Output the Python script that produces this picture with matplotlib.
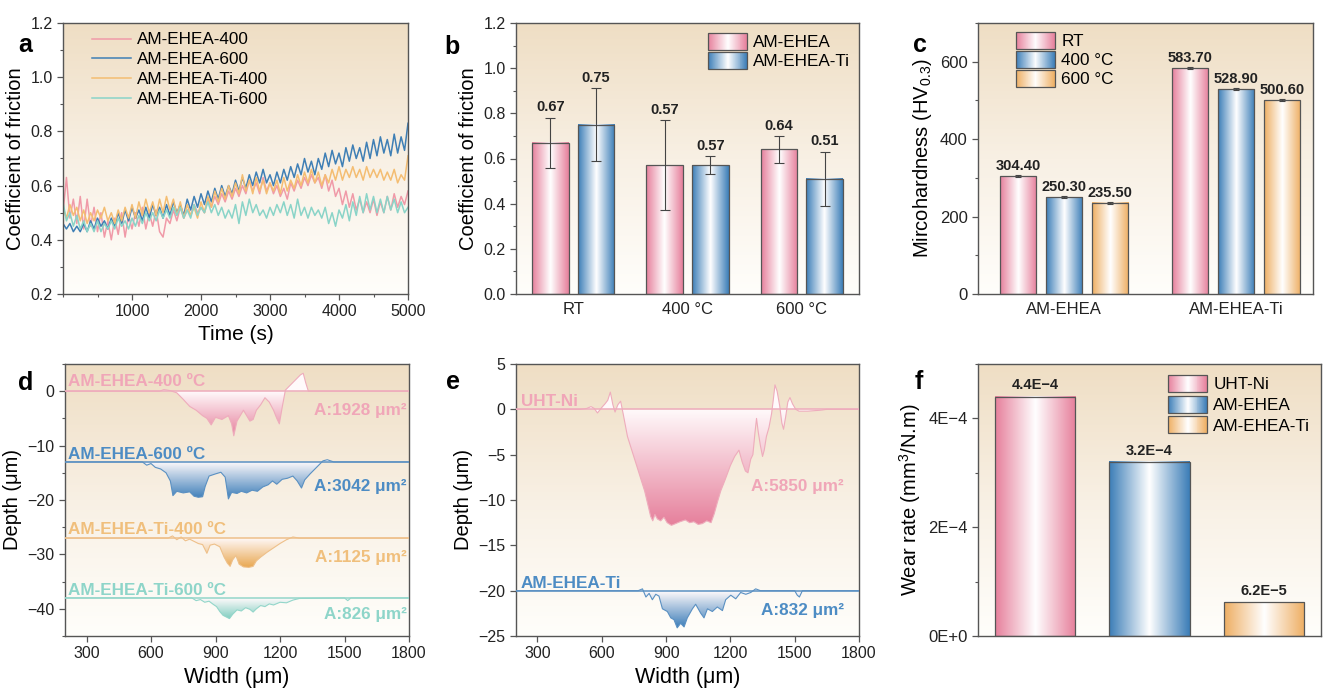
import numpy as np
import matplotlib
matplotlib.use('Agg')
import matplotlib.pyplot as plt
from matplotlib.colors import LinearSegmentedColormap
from matplotlib.legend_handler import HandlerBase
from matplotlib.patches import Rectangle
from matplotlib.path import Path
from matplotlib.ticker import MultipleLocator, FuncFormatter, FormatStrFormatter

plt.rcParams['font.family'] = ['Liberation Sans', 'DejaVu Sans']
plt.rcParams['axes.unicode_minus'] = True

# ---------------- data ----------------
time_s = np.arange(0, 5001, 50)
cof_ehea_400 = [0.50,0.63,0.48,0.55,0.46,0.56,0.44,0.55,0.45,0.52,
                0.43,0.50,0.41,0.47,0.40,0.48,0.42,0.50,0.41,0.49,
                0.44,0.50,0.45,0.52,0.44,0.50,0.45,0.51,0.43,0.41,
                0.48,0.46,0.51,0.47,0.52,0.48,0.51,0.49,0.53,0.50,
                0.52,0.50,0.55,0.52,0.56,0.53,0.57,0.54,0.58,0.55,
                0.59,0.56,0.60,0.57,0.62,0.58,0.61,0.57,0.63,0.58,
                0.61,0.57,0.60,0.56,0.59,0.55,0.61,0.58,0.62,0.59,
                0.63,0.60,0.64,0.61,0.63,0.59,0.64,0.58,0.62,0.56,
                0.59,0.53,0.58,0.52,0.57,0.51,0.55,0.50,0.54,0.50,
                0.55,0.49,0.54,0.50,0.56,0.51,0.57,0.52,0.56,0.53,
                0.58]
cof_ehea_600 = [0.46,0.44,0.46,0.43,0.45,0.43,0.46,0.43,0.47,0.44,
                0.48,0.45,0.47,0.44,0.48,0.45,0.50,0.46,0.51,0.47,
                0.52,0.48,0.51,0.47,0.52,0.48,0.53,0.49,0.52,0.48,
                0.53,0.49,0.54,0.50,0.53,0.49,0.55,0.51,0.56,0.52,
                0.57,0.53,0.58,0.54,0.59,0.55,0.60,0.56,0.60,0.57,
                0.62,0.58,0.63,0.59,0.64,0.60,0.65,0.61,0.66,0.61,
                0.64,0.60,0.65,0.61,0.66,0.62,0.67,0.63,0.68,0.64,
                0.70,0.65,0.69,0.64,0.70,0.66,0.72,0.67,0.73,0.68,
                0.72,0.67,0.74,0.69,0.75,0.70,0.74,0.69,0.76,0.70,
                0.77,0.71,0.78,0.72,0.77,0.71,0.79,0.72,0.78,0.73,
                0.83]
cof_ti_400 = [0.52,0.48,0.53,0.49,0.52,0.47,0.51,0.46,0.50,0.47,
              0.51,0.48,0.52,0.47,0.50,0.46,0.51,0.47,0.52,0.48,
              0.53,0.48,0.54,0.49,0.55,0.50,0.54,0.49,0.55,0.50,
              0.56,0.51,0.55,0.49,0.54,0.48,0.53,0.49,0.52,0.48,
              0.54,0.50,0.56,0.52,0.58,0.54,0.59,0.55,0.60,0.56,
              0.61,0.57,0.64,0.58,0.62,0.57,0.63,0.58,0.62,0.57,
              0.61,0.58,0.62,0.57,0.63,0.58,0.62,0.59,0.64,0.60,
              0.65,0.61,0.66,0.61,0.65,0.60,0.64,0.61,0.66,0.62,
              0.67,0.62,0.66,0.63,0.67,0.63,0.66,0.62,0.67,0.63,
              0.66,0.63,0.66,0.62,0.65,0.62,0.66,0.61,0.64,0.62,
              0.71]
cof_ti_600 = [0.54,0.47,0.50,0.45,0.49,0.44,0.47,0.43,0.46,0.43,
              0.47,0.43,0.46,0.44,0.47,0.44,0.48,0.45,0.47,0.44,
              0.48,0.45,0.49,0.46,0.50,0.47,0.50,0.47,0.51,0.48,
              0.51,0.48,0.52,0.49,0.52,0.48,0.51,0.48,0.53,0.49,
              0.52,0.50,0.54,0.50,0.53,0.49,0.52,0.48,0.51,0.48,
              0.53,0.46,0.54,0.49,0.55,0.50,0.53,0.49,0.51,0.48,
              0.52,0.49,0.53,0.50,0.54,0.49,0.53,0.48,0.55,0.49,
              0.52,0.48,0.52,0.49,0.51,0.48,0.52,0.46,0.50,0.45,
              0.51,0.48,0.53,0.47,0.54,0.49,0.56,0.50,0.57,0.51,
              0.56,0.50,0.55,0.50,0.56,0.51,0.55,0.50,0.54,0.50,
              0.52]
series_a_labels = ['AM-EHEA-400', 'AM-EHEA-600', 'AM-EHEA-Ti-400', 'AM-EHEA-Ti-600']

b_categories = ['RT', '400 °C', '600 °C']
b_ehea = [0.67, 0.57, 0.64]
b_ehea_err = [0.11, 0.20, 0.06]
b_ti = [0.75, 0.57, 0.51]
b_ti_err = [0.16, 0.04, 0.12]
b_labels = ['AM-EHEA', 'AM-EHEA-Ti']

c_categories = ['AM-EHEA', 'AM-EHEA-Ti']
c_series = ['RT', '400 °C', '600 °C']
c_rt = [304.40, 583.70]
c_400 = [250.30, 528.90]
c_600 = [235.50, 500.60]
c_err = [[2.0, 3.0], [2.0, 2.5], [2.0, 2.0]]

# wear-track profiles (width um, depth um)
d400_x = [200,640,660,690,720,750,780,810,840,860,880,900,930,960,975,985,1000,1015,1030,1045,1060,1075,1090,1110,1130,1150,1170,1185,1197,1210,1225,1250,1275,1295,1308,1320,1332,1800]
d400_y = [0,0,0.3,0.1,-0.3,-1.5,-2.8,-3.5,-4.5,-5,-6.2,-4.8,-5.2,-4.5,-6,-8.2,-5.5,-4.5,-3.5,-4.5,-5.5,-5.2,-3.5,-2.5,-1.2,-2,-3.5,-5,-6,-3,0.2,1.2,2.2,3.0,3.3,1.5,0,0]
d600_x = [200,560,580,600,620,645,670,690,702,720,750,780,800,820,840,852,870,900,925,945,960,975,1000,1020,1045,1070,1095,1120,1145,1165,1185,1210,1235,1260,1280,1300,1315,1340,1370,1400,1420,1450,1800]
d600_y = [-13,-13,-13.6,-13.3,-14,-14.3,-15,-16.5,-19.2,-18.4,-18.7,-18.5,-19.3,-19.5,-19.4,-17.5,-15.6,-15.2,-14.9,-15.8,-19.8,-18.6,-18.8,-18.4,-18.7,-18.2,-18.4,-17.6,-17.2,-16.5,-17.1,-16.2,-16,-15.6,-16.5,-17.8,-16.3,-15.2,-14,-12.8,-12.6,-13,-13]
dti400_x = [200,680,700,720,740,760,780,800,820,840,860,875,895,920,940,955,968,980,995,1010,1030,1055,1075,1090,1110,1140,1170,1200,1230,1260,1290,1800]
dti400_y = [-27,-27,-26.6,-27.3,-26.8,-27.5,-27.2,-27.6,-28,-28.2,-29.8,-28.3,-28.1,-28.6,-30.5,-31.6,-32.2,-31,-30.2,-31.8,-32.3,-32.4,-32.2,-31.2,-30.5,-29.6,-28.8,-28,-27.3,-26.8,-27,-27]
dti600_x = [200,790,810,830,850,870,890,905,920,935,950,965,980,1000,1020,1040,1060,1075,1090,1110,1130,1150,1170,1200,1230,1260,1290,1500,1515,1530,1800]
dti600_y = [-38,-38,-38.5,-38.3,-38.8,-38.6,-39.2,-39.6,-40.5,-41.2,-41.5,-41.8,-41,-40.2,-40.4,-39.8,-40.1,-40.6,-40,-39.4,-39.6,-39.1,-39.3,-38.8,-38.9,-38.4,-38.1,-38,-38.5,-38,-38]
d_baselines = [0, -13, -27, -38]
d_names = ['AM-EHEA-400 \u00baC', 'AM-EHEA-600 \u00baC', 'AM-EHEA-Ti-400 \u00baC', 'AM-EHEA-Ti-600 \u00baC']
d_areas = [1928, 3042, 1125, 826]

euht_x = [200,500,530,550,565,580,600,615,628,640,652,662,675,688,700,720,740,760,780,800,
          815,828,838,848,860,875,890,905,925,945,965,990,1010,1030,1050,1070,1090,1110,1125,1140,
          1155,1175,1200,1220,1240,1255,1270,1282,1295,1305,1315,1322,1330,1340,1350,1358,1368,1380,1392,1400,
          1408,1418,1430,1440,1448,1458,1468,1478,1490,1505,1520,1560,1620,1650,1800]
euht_y = [0,0,0.1,0.3,0.1,-0.4,0.2,0.6,1.0,1.9,0.5,-0.3,0.5,0.9,-0.5,-3,-4.5,-6,-7.5,-9,
          -10.5,-11.8,-12.3,-11.6,-12.1,-12.3,-11.9,-12.5,-12.8,-12.6,-12.4,-12.2,-12.5,-12.4,-12.7,-12.6,-12.3,-12.5,-11.5,-10.2,
          -9,-7.8,-6.2,-5.2,-4.5,-5.8,-6.8,-7,-5.5,-5,-2.5,-1,-2.5,-4,-5.2,-4.5,-3,-2,-0.5,1.0,
          2.7,2,0.4,-1.5,-2.2,-0.8,0.8,1.3,0.6,0,-0.2,-0.2,-0.1,0,0]
eti_x = [200,770,790,806,821,836,852,867,883,906,922,937,952,968,984,999,1023,1038,1062,1077,1093,1116,1139,1163,1178,1202,1225,1248,1272,1295,1318,1340,1500,1512,1522,1536,1800]
eti_y = [-20,-20,-19.8,-20.7,-20.3,-21,-20.4,-20.6,-22,-22.3,-23,-23.2,-24.1,-23.6,-24,-23,-22,-21.5,-22.5,-23,-22,-22.3,-21.8,-22.2,-21,-20.5,-20.9,-20.2,-20.4,-20.2,-19.8,-20,-20,-20.5,-20.7,-20,-20]
e_baselines = [0, -20]
e_names = ['UHT-Ni', 'AM-EHEA-Ti']
e_areas = [5850, 832]

f_categories = ['UHT-Ni', 'AM-EHEA', 'AM-EHEA-Ti']
f_wear = [4.4e-4, 3.2e-4, 6.2e-5]

# ---------------- style ----------------
PINK = '#e67f9b'
BLUE = '#3b7db7'
ORANGE = '#eeae62'
TEAL = '#7fcfc1'
LINE_A = ['#f09aa8', '#3f7fb5', '#f4bd72', '#8ad4c8']
PROF_LINE = ['#eeacbc', '#5a90c2', '#eec08a', '#93d6ca']
PROF_FILL = ['#e6809c', '#3a7cb8', '#e9a954', '#7ecdbf']
PROF_TEXT = ['#f0a6b8', '#4d8cc4', '#f0bf7c', '#8ed5c9']
EDGE = '#555555'

fig = plt.figure(figsize=(13.23, 6.88), dpi=100)
W, H = 1323.0, 688.0


def rect(l, t, r, b):
    return [l / W, 1 - b / H, (r - l) / W, (b - t) / H]


bg_cmap = LinearSegmentedColormap.from_list('bg', ['#fffefb', '#f8f0e4', '#efdec4'])


def make_ax(r):
    bgax = fig.add_axes(r, zorder=0)
    bgax.imshow(np.linspace(0, 1, 256).reshape(-1, 1), extent=[0, 1, 0, 1], aspect='auto',
                cmap=bg_cmap, origin='lower', interpolation='bilinear')
    bgax.set_axis_off()
    ax = fig.add_axes(r, zorder=1)
    ax.patch.set_alpha(0)
    for s in ax.spines.values():
        s.set_color(EDGE)
        s.set_linewidth(1.0)
    ax.tick_params(which='both', direction='out', color=EDGE, labelsize=11.5, labelcolor='#222222')
    ax.tick_params(which='major', length=4, width=0.9)
    ax.tick_params(which='minor', length=2.5, width=0.8)
    return ax


def grad_cmap(c):
    return LinearSegmentedColormap.from_list('g', [(0, c), (0.5, '#ffffff'), (1, c)])


def gradient_bars(ax, x, h, width, color):
    bars = ax.bar(x, h, width, facecolor='none', edgecolor=EDGE, linewidth=0.9, zorder=3)
    g = np.linspace(0, 1, 256).reshape(1, -1)
    cm = grad_cmap(color)
    for b in bars:
        x0, w, hh = b.get_x(), b.get_width(), b.get_height()
        ax.imshow(g, extent=[x0, x0 + w, 0, hh], aspect='auto', cmap=cm, zorder=2,
                  interpolation='bilinear')
    return bars


class HandlerGrad(HandlerBase):
    def create_artists(self, legend, orig_handle, xdescent, ydescent, width, height, fontsize, trans):
        cm = grad_cmap(orig_handle.get_facecolor())
        n = 40
        arts = []
        for i in range(n):
            arts.append(Rectangle((-xdescent + i * width / n, -ydescent), width / n * 1.05, height,
                                  facecolor=cm((i + 0.5) / n), edgecolor='none', transform=trans))
        arts.append(Rectangle((-xdescent, -ydescent), width, height, fill=False,
                              edgecolor=EDGE, linewidth=0.9, transform=trans))
        return arts


def grad_legend(ax, labels, colors, anchor, spacing):
    handles = [Rectangle((0, 0), 1, 1, facecolor=c, label=l) for l, c in zip(labels, colors)]
    ax.legend(handles=handles, handler_map={Rectangle: HandlerGrad()}, loc='upper left',
              bbox_to_anchor=anchor, borderaxespad=0, borderpad=0, frameon=False, fontsize=12.3,
              handlelength=2.3, handleheight=1.15, labelspacing=spacing, handletextpad=0.35)


def draw_profile(ax, x, y, base, lc, fc):
    x = np.asarray(x, float)
    y = np.asarray(y, float)
    ax.axhline(base, color=lc, lw=1.1, zorder=3)
    ax.plot(x, y, color=lc, lw=0.8, zorder=4)
    verts = np.column_stack([np.r_[x, x[::-1]], np.r_[y, np.full_like(y, base)]])
    path = Path(verts)
    ymin, ymax = y.min(), max(y.max(), base)
    ys = np.linspace(ymin, ymax, 256)
    vals = np.clip((base - ys) / (base - ymin), 0, 1)
    cm = LinearSegmentedColormap.from_list('p', ['#fffafb', fc])
    im = ax.imshow(vals.reshape(-1, 1), extent=[x.min(), x.max(), ymin, ymax], origin='lower',
                   aspect='auto', cmap=cm, vmin=0, vmax=1, zorder=2, interpolation='bilinear')
    im.set_clip_path(path, transform=ax.transData)


# ---------------- panel a ----------------
ax = make_ax(rect(63, 23, 408, 294))
for vals, c, lab in zip([cof_ehea_400, cof_ehea_600, cof_ti_400, cof_ti_600], LINE_A, series_a_labels):
    ax.plot(time_s, vals, color=c, lw=1.1, label=lab)
ax.set_xlim(0, 5000)
ax.set_ylim(0.2, 1.2)
ax.set_xticks([1000, 2000, 3000, 4000, 5000])
ax.xaxis.set_minor_locator(MultipleLocator(500))
ax.set_yticks([0.2, 0.4, 0.6, 0.8, 1.0, 1.2])
ax.yaxis.set_minor_locator(MultipleLocator(0.1))
ax.yaxis.set_major_formatter(FormatStrFormatter('%.1f'))
ax.set_xlabel('Time (s)', fontsize=15)
ax.set_ylabel('Coefficient of friction', fontsize=14.5)
ax.legend(loc='upper left', bbox_to_anchor=(0.084, 0.965), borderaxespad=0, borderpad=0,
          frameon=False, fontsize=12.3, handlelength=2.3, labelspacing=0.28, handletextpad=0.35)

# ---------------- panel b ----------------
ax = make_ax(rect(516, 23, 859, 294))
xc = np.arange(len(b_categories))
gradient_bars(ax, xc - 0.2, b_ehea, 0.32, PINK)
gradient_bars(ax, xc + 0.2, b_ti, 0.32, BLUE)
ax.errorbar(xc - 0.2, b_ehea, yerr=b_ehea_err, fmt='none', ecolor='#444444', elinewidth=0.8,
            capsize=3.5, capthick=0.8, zorder=4)
ax.errorbar(xc + 0.2, b_ti, yerr=b_ti_err, fmt='none', ecolor='#444444', elinewidth=0.8,
            capsize=3.5, capthick=0.8, zorder=4)
for xs, vs, es in [(xc - 0.2, b_ehea, b_ehea_err), (xc + 0.2, b_ti, b_ti_err)]:
    for xi, v, e in zip(xs, vs, es):
        ax.text(xi, v + e + 0.015, f'{v:.2f}', ha='center', va='bottom', fontsize=10.5,
                fontweight='bold', color='#222222', zorder=5)
ax.set_xlim(-0.5, 2.5)
ax.set_ylim(0, 1.2)
ax.set_xticks(xc)
ax.set_xticklabels(b_categories, fontsize=12)
ax.tick_params(axis='x', which='both', length=0, pad=6)
ax.set_yticks([0.0, 0.2, 0.4, 0.6, 0.8, 1.0, 1.2])
ax.yaxis.set_minor_locator(MultipleLocator(0.1))
ax.yaxis.set_major_formatter(FormatStrFormatter('%.1f'))
ax.set_ylabel('Coefficient of friction', fontsize=14.5)
grad_legend(ax, b_labels, [PINK, BLUE], (0.56, 0.963), 0.1)

# ---------------- panel c ----------------
ax = make_ax(rect(978, 23, 1313, 294))
gx = np.arange(len(c_categories))
offs = [-0.266, 0.0, 0.266]
for vals, off, col, errs in zip([c_rt, c_400, c_600], offs, [PINK, BLUE, ORANGE], c_err):
    gradient_bars(ax, gx + off, vals, 0.21, col)
    ax.errorbar(gx + off, vals, yerr=errs, fmt='none', ecolor='#444444', elinewidth=0.8,
                capsize=2, capthick=0.8, zorder=4)
    for xi, v, e in zip(gx + off, vals, errs):
        ax.text(xi, v + e + 5, f'{v:.2f}', ha='center', va='bottom', fontsize=10.5,
                fontweight='bold', color='#222222', zorder=5)
ax.set_xlim(-0.5, 1.448)
ax.set_ylim(0, 700)
ax.set_xticks(gx)
ax.set_xticklabels(c_categories, fontsize=12)
ax.tick_params(axis='x', which='both', length=0, pad=6)
ax.set_yticks([0, 200, 400, 600])
ax.yaxis.set_minor_locator(MultipleLocator(100))
ax.tick_params(axis='y', labelsize=12)
ax.set_ylabel('Mircohardness (HV$_{\\mathregular{0.3}}$)', fontsize=14.5)
grad_legend(ax, c_series, [PINK, BLUE, ORANGE], (0.113, 0.967), 0.1)

# ---------------- panel d ----------------
ax = make_ax(rect(65, 364, 409, 636))
d_profiles = [(d400_x, d400_y), (d600_x, d600_y), (dti400_x, dti400_y), (dti600_x, dti600_y)]
d_name_y = [1.8, -11.7, -25.4, -36.6]
d_area_y = [-3.5, -17.6, -30.5, -41.0]
for i, (px, py) in enumerate(d_profiles):
    draw_profile(ax, px, py, d_baselines[i], PROF_LINE[i], PROF_FILL[i])
    ax.text(215, d_name_y[i], d_names[i], color=PROF_TEXT[i], fontsize=12.3, fontweight='bold',
            ha='left', va='center', zorder=6)
    ax.text(1790, d_area_y[i], f'A:{d_areas[i]} \u03bcm\u00b2', color=PROF_TEXT[i], fontsize=12.3,
            fontweight='bold', ha='right', va='center', zorder=6)
ax.set_xlim(200, 1800)
ax.set_ylim(-45, 5)
ax.set_xticks([300, 600, 900, 1200, 1500, 1800])
ax.set_yticks([0, -10, -20, -30, -40])
ax.yaxis.set_minor_locator(MultipleLocator(5))
ax.set_xlabel('Width (\u03bcm)', fontsize=15.5)
ax.set_ylabel('Depth (\u03bcm)', fontsize=14.5)

# ---------------- panel e ----------------
ax = make_ax(rect(516, 364, 859, 636))
e_profiles = [(euht_x, euht_y), (eti_x, eti_y)]
e_cols = [0, 1]
e_name_y = [0.9, -19.2]
e_area_y = [-8.5, -22.2]
for i, (px, py) in enumerate(e_profiles):
    ci = e_cols[i]
    draw_profile(ax, px, py, e_baselines[i], PROF_LINE[ci], PROF_FILL[ci])
    ax.text(222, e_name_y[i], e_names[i], color=PROF_TEXT[ci], fontsize=12.3, fontweight='bold',
            ha='left', va='center', zorder=6)
    ax.text(1730, e_area_y[i], f'A:{e_areas[i]} \u03bcm\u00b2', color=PROF_TEXT[ci], fontsize=12.3,
            fontweight='bold', ha='right', va='center', zorder=6)
ax.set_xlim(200, 1800)
ax.set_ylim(-25, 5)
ax.set_xticks([300, 600, 900, 1200, 1500, 1800])
ax.set_yticks([5, 0, -5, -10, -15, -20, -25])
ax.set_xlabel('Width (\u03bcm)', fontsize=15.5)
ax.set_ylabel('Depth (\u03bcm)', fontsize=14.5)

# ---------------- panel f ----------------
ax = make_ax(rect(978, 364, 1321, 636))
fx = np.arange(len(f_categories))
for xi, v, col in zip(fx, f_wear, [PINK, BLUE, ORANGE]):
    gradient_bars(ax, [xi], [v], 0.7, col)


def sci_label(v, dec):
    if v == 0:
        return '0E+0'
    e = int(np.floor(np.log10(abs(v)) + 1e-9))
    m = v / 10 ** e
    return f'{m:.{dec}f}E\u2212{-e}'


for xi, v in zip(fx, f_wear):
    ax.text(xi, v + 0.08e-4, sci_label(v, 1), ha='center', va='bottom', fontsize=10.5,
            fontweight='bold', color='#222222', zorder=5)
ax.set_xlim(-0.5, 2.5)
ax.set_ylim(0, 5e-4)
ax.set_xticks([])
ax.set_yticks([0, 2e-4, 4e-4])
ax.yaxis.set_minor_locator(MultipleLocator(1e-4))
ax.yaxis.set_major_formatter(FuncFormatter(lambda v, p: sci_label(v, 0)))
ax.tick_params(axis='y', labelsize=12)
ax.set_ylabel('Wear rate (mm$^{\\mathregular{3}}$/N.m)', fontsize=14.5)
grad_legend(ax, f_categories, [PINK, BLUE, ORANGE], (0.554, 0.96), 0.2)

# panel letters
for letter, (px, py) in zip('abcdef', [(18, 45), (444, 47), (913, 45), (18, 383), (446, 382), (915, 382)]):
    fig.text(px / W, 1 - py / H, letter, fontsize=18, fontweight='bold', ha='left', va='center')

fig.savefig('out.png', dpi=100)
